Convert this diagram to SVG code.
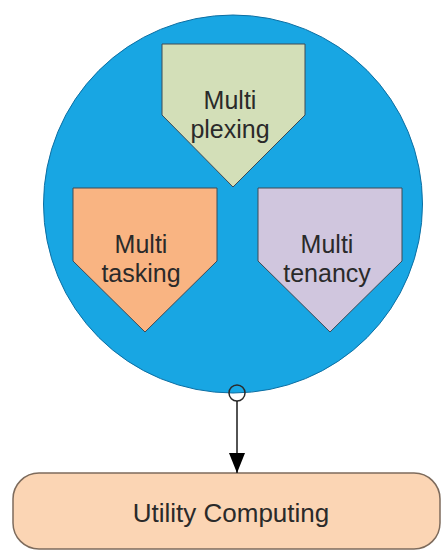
<svg xmlns="http://www.w3.org/2000/svg" width="446" height="551" viewBox="0 0 446 551">
  <defs>
    <style>
      .lbl { font-family: "Liberation Sans", Arial, sans-serif; font-size: 25px; fill: #2a2a2a; text-anchor: middle; }
      .big { font-size: 26px; }
      .penta { stroke: #3f4a55; stroke-width: 1; }
      .conn { stroke: #1a1a1a; stroke-width: 1.5; fill: none; }
    </style>
    <marker id="arrowhead" markerWidth="20" markerHeight="16" refX="20" refY="8" orient="auto" markerUnits="userSpaceOnUse" viewBox="0 0 20 16">
      <path d="M0,0 L20,8 L0,16 Z" fill="#000"/>
    </marker>
  </defs>

  <rect width="446" height="551" fill="#ffffff"/>

  <!-- outer container circle -->
  <g id="container">
    <ellipse cx="233" cy="204" rx="189.5" ry="189" fill="#18a6e3" stroke="#0d6fa3" stroke-width="1"/>
  </g>

  <g id="multiplexing">
    <polygon class="penta" points="162,44 305,44 305,115 233,187 162,115" fill="#d3dfb8"/>
    <text class="lbl" x="230" y="109">Multi</text>
    <text class="lbl" x="230" y="138">plexing</text>
  </g>

  <g id="multitasking">
    <polygon class="penta" points="73,188 217,188 217,261 145,332 73,261" fill="#f9b482"/>
    <text class="lbl" x="141" y="253">Multi</text>
    <text class="lbl" x="141" y="282">tasking</text>
  </g>

  <g id="multitenancy">
    <polygon class="penta" points="258,188 402,188 402,261 330,332 258,261" fill="#d0c6de"/>
    <text class="lbl" x="327" y="253">Multi</text>
    <text class="lbl" x="327" y="282">tenancy</text>
  </g>

  <g id="utility-computing">
    <rect x="13" y="473" width="427" height="76" rx="26" ry="26" fill="#fbd5b4" stroke="#7d6b5c" stroke-width="1.5"/>
    <text class="lbl big" x="231" y="522">Utility Computing</text>
  </g>

  <g id="connectors">
    <circle cx="237" cy="393" r="8" fill="none" stroke="#2a2a2a" stroke-width="1.5"/>
    <line class="conn" x1="237" y1="401" x2="237" y2="473" marker-end="url(#arrowhead)"/>
  </g>
</svg>
